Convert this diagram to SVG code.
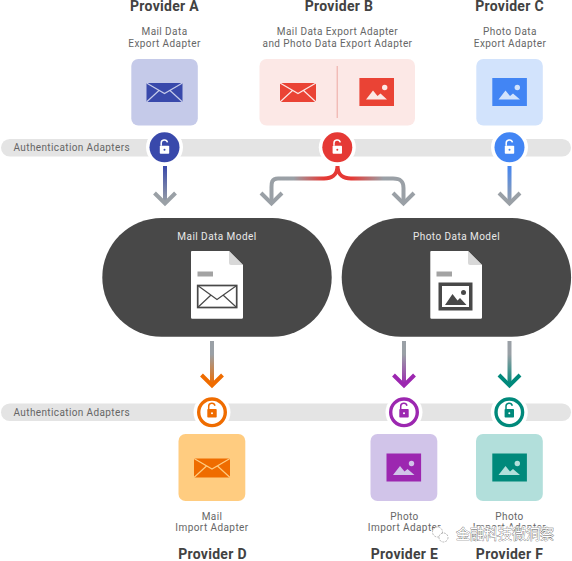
<svg xmlns="http://www.w3.org/2000/svg" width="572" height="561" viewBox="0 0 572 561">
<style>
text{font-family:Roboto,"Liberation Sans",sans-serif;text-anchor:middle}
.p{font-size:14px;font-weight:700;fill:#424242;letter-spacing:.3px}
.s{font-size:10px;fill:#666;letter-spacing:.42px}
.a{font-size:10px;fill:#666;letter-spacing:.38px;text-anchor:start}
.m{font-size:10px;fill:#e8e8e8;letter-spacing:.45px}
.bar{fill:#e4e4e4}
.halo{fill:#fff}
.ln{fill:none;stroke-width:4}
.hd{fill:none;stroke-width:4}
</style>
<defs>
<linearGradient id="gA" gradientUnits="userSpaceOnUse" x1="0" y1="166" x2="0" y2="203"><stop offset="0" stop-color="#3949ab"/><stop offset="1" stop-color="#9aa0a6"/></linearGradient>
<linearGradient id="gC" gradientUnits="userSpaceOnUse" x1="0" y1="166" x2="0" y2="203"><stop offset="0" stop-color="#4285f4"/><stop offset="1" stop-color="#9aa0a6"/></linearGradient>
<linearGradient id="gB" gradientUnits="userSpaceOnUse" x1="266" y1="0" x2="404" y2="0"><stop offset="0" stop-color="#9aa0a6"/><stop offset=".2" stop-color="#9aa0a6"/><stop offset=".42" stop-color="#e53935"/><stop offset=".62" stop-color="#e53935"/><stop offset=".85" stop-color="#9aa0a6"/><stop offset="1" stop-color="#9aa0a6"/></linearGradient>
<linearGradient id="gD" gradientUnits="userSpaceOnUse" x1="0" y1="341" x2="0" y2="385"><stop offset=".3" stop-color="#9aa0a6"/><stop offset="1" stop-color="#ef6c00"/></linearGradient>
<linearGradient id="gE" gradientUnits="userSpaceOnUse" x1="0" y1="341" x2="0" y2="385"><stop offset=".3" stop-color="#9aa0a6"/><stop offset="1" stop-color="#9c27b0"/></linearGradient>
<linearGradient id="gF" gradientUnits="userSpaceOnUse" x1="0" y1="341" x2="0" y2="385"><stop offset=".3" stop-color="#9aa0a6"/><stop offset="1" stop-color="#00897b"/></linearGradient>
<path id="shackle" d="M-3.300-1.500V-3.800A3.200 3.200 0 0 1 3-4.800" fill="none" stroke-width="1.500"/>
<g id="mail"><rect x="-18.500" y="-10" width="37" height="20"/><path d="M-18-9.500 0 1 18-9.500M-18 9.500-5.500-2M18 9.500 5.500-2" fill="none" stroke-width="1.200"/></g>
</defs>

<g id="bars">
<rect class="bar" x="1" y="139" width="570" height="17.600" rx="8.800"/>
<rect class="bar" x="1" y="403.400" width="570" height="17.600" rx="8.800"/>
<text class="a" x="13.500" y="150.500">Authentication Adapters</text>
<text class="a" x="13.500" y="415.500">Authentication Adapters</text>
</g>

<g id="connectors">
<path class="ln" stroke="url(#gA)" d="M165 166V201"/><path class="hd" stroke="#9aa0a6" d="M154.500 193 165 203.500 175.500 193"/>
<path class="ln" stroke="url(#gC)" d="M509.500 166V201"/><path class="hd" stroke="#9aa0a6" d="M499 193 509.500 203.500 520 193"/>
<path class="ln" stroke="url(#gB)" d="M337.500 166C337.500 175 331 178.500 324 178.500H278C271 178.500 271.500 184 271.500 188V201M337.500 166C337.500 175 344 178.500 351 178.500H393C403 178.500 403.500 184 403.500 188V201"/>
<path class="hd" stroke="#9aa0a6" d="M261 193 271.500 203.500 282 193M393 193 403.500 203.500 414 193"/>
<path class="ln" stroke="url(#gD)" d="M212 341V383"/><path class="hd" stroke="#ef6c00" d="M201.500 375 212 385.500 222.500 375"/>
<path class="ln" stroke="url(#gE)" d="M404 341V383"/><path class="hd" stroke="#9c27b0" d="M393.500 375 404 385.500 414.500 375"/>
<path class="ln" stroke="url(#gF)" d="M509.500 341V383"/><path class="hd" stroke="#00897b" d="M499 375 509.500 385.500 520 375"/>
</g>

<g id="provider-a">
<text class="p" x="164.500" y="11">Provider A</text>
<text class="s" x="164.500" y="35">Mail Data</text><text class="s" x="164.500" y="46.500">Export Adapter</text>
<rect x="131.300" y="59" width="66.500" height="66.500" rx="7" fill="#c5cae9"/>
<use href="#mail" transform="translate(164.500 92.500)" fill="#3949ab" stroke="#c5cae9"/>
</g>
<g id="auth-a">
<circle class="halo" cx="164.500" cy="147.300" r="18.500"/><circle cx="164.500" cy="147.300" r="15" fill="#3949ab"/>
<g transform="translate(164.500 147.200)"><rect x="-4.700" y="-1.500" width="9.400" height="8" rx=".8" fill="#fff"/><use href="#shackle" stroke="#fff"/><circle cy="2.500" r="1" fill="#3949ab"/></g>
</g>

<g id="provider-b">
<text class="p" x="339" y="11">Provider B</text>
<text class="s" x="337.500" y="35">Mail Data Export Adapter</text><text class="s" x="337.500" y="46.500">and Photo Data Export Adapter</text>
<rect x="259.500" y="59" width="155.500" height="66.500" rx="7" fill="#fce8e6"/>
<path d="M337.200 66V118" stroke="#eda9a3" stroke-width="1"/>
<use href="#mail" transform="translate(298 92.500)" fill="#ea4335" stroke="#fce8e6"/>
<rect x="359.400" y="78" width="34.600" height="28" fill="#ea4335"/>
<path d="M366 99.500 373 90.500 377.500 96 380.500 93.500 387 99.500Z" fill="#fce8e6"/><circle cx="384.700" cy="87.500" r="2.700" fill="#fce8e6"/>
</g>
<g id="auth-b">
<circle class="halo" cx="337.300" cy="147.300" r="18.500"/><circle cx="337.300" cy="147.300" r="15" fill="#e53935"/>
<g transform="translate(337.300 147.200)"><rect x="-4.700" y="-1.500" width="9.400" height="8" rx=".8" fill="#fff"/><use href="#shackle" stroke="#fff"/><circle cy="2.500" r="1" fill="#e53935"/></g>
</g>

<g id="provider-c">
<text class="p" x="509.500" y="11">Provider C</text>
<text class="s" x="510" y="35">Photo Data</text><text class="s" x="510" y="46.500">Export Adapter</text>
<rect x="476.300" y="59" width="66.500" height="66.500" rx="7" fill="#d2e3fc"/>
<rect x="492.300" y="78" width="34.600" height="28" fill="#4285f4"/>
<path d="M498.500 99.500 505.500 90.500 510 96 513 93.500 520 99.500Z" fill="#d2e3fc"/><circle cx="517.300" cy="87.500" r="2.700" fill="#d2e3fc"/>
</g>
<g id="auth-c">
<circle class="halo" cx="509.500" cy="147.300" r="18.500"/><circle cx="509.500" cy="147.300" r="15" fill="#4285f4"/>
<g transform="translate(509.500 147.200)"><rect x="-4.700" y="-1.500" width="9.400" height="8" rx=".8" fill="#fff"/><use href="#shackle" stroke="#fff"/><circle cy="2.500" r="1" fill="#4285f4"/></g>
</g>

<g id="mail-data-model">
<rect x="102.300" y="218" width="229.400" height="118.700" rx="59.300" fill="#484848"/>
<text class="m" x="217" y="239.500">Mail Data Model</text>
<path d="M192.500 251H229L243 265V317.500A1.300 1.300 0 0 1 241.700 318.700H192.500A1.300 1.300 0 0 1 191 317.500V252.500A1.300 1.300 0 0 1 192.500 251Z" fill="#fff"/>
<path d="M229 251 243 265H231A2 2 0 0 1 229 263Z" fill="#d8d8d8"/>
<rect x="197.500" y="271.500" width="15.500" height="5" fill="#a3a3a3"/>
<rect x="197.700" y="285.500" width="39" height="22" fill="#fff" stroke="#484848" stroke-width="1.700"/>
<path d="M197.700 285.500 217 299.500 236.700 285.500M197.700 307.500 211 295M236.700 307.500 223 295" fill="none" stroke="#484848" stroke-width="1.200"/>
</g>

<g id="photo-data-model">
<rect x="341.700" y="218" width="229.400" height="118.700" rx="59.300" fill="#484848"/>
<text class="m" x="456.500" y="239.500">Photo Data Model</text>
<path d="M431.800 251H468L482 265V317.500A1.300 1.300 0 0 1 480.700 318.700H431.800A1.300 1.300 0 0 1 430.300 317.500V252.500A1.300 1.300 0 0 1 431.800 251Z" fill="#fff"/>
<path d="M468 251 482 265H470A2 2 0 0 1 468 263Z" fill="#d8d8d8"/>
<rect x="436.500" y="271.500" width="15.500" height="5" fill="#a3a3a3"/>
<rect x="438.500" y="282.500" width="34" height="28" fill="#484848"/>
<rect x="442" y="286" width="27" height="21" fill="#fff"/>
<path d="M445 305 452.500 294 457.500 300.500 460 298 466.500 305Z" fill="#484848"/><circle cx="463.500" cy="292.500" r="2.500" fill="#484848"/>
</g>

<g id="auth-d">
<circle class="halo" cx="212" cy="412.300" r="18.500"/><circle cx="212" cy="412.300" r="13.300" fill="#fff" stroke="#ef6c00" stroke-width="3.400"/>
<g transform="translate(212 410.500)"><rect x="-4.700" y="-1.500" width="9.400" height="8.500" rx=".8" fill="#ef6c00"/><use href="#shackle" stroke="#ef6c00"/><circle cy="2.800" r="1" fill="#fff"/></g>
</g>
<g id="provider-d">
<rect x="178.500" y="434" width="66.800" height="67" rx="7" fill="#ffcc80"/>
<use href="#mail" transform="translate(212 468)" fill="#ef6c00" stroke="#ffcc80"/>
<text class="s" x="212" y="519.500">Mail</text><text class="s" x="212" y="531">Import Adapter</text>
<text class="p" x="212.500" y="558.500">Provider D</text>
</g>

<g id="auth-e">
<circle class="halo" cx="404" cy="412.300" r="18.500"/><circle cx="404" cy="412.300" r="13.300" fill="#fff" stroke="#9c27b0" stroke-width="3.400"/>
<g transform="translate(404 410.500)"><rect x="-4.700" y="-1.500" width="9.400" height="8.500" rx=".8" fill="#9c27b0"/><use href="#shackle" stroke="#9c27b0"/><circle cy="2.800" r="1" fill="#fff"/></g>
</g>
<g id="provider-e">
<rect x="370.500" y="434" width="66.800" height="67" rx="7" fill="#d1c4e9"/>
<rect x="386.500" y="453.500" width="34.600" height="28" fill="#9c27b0"/>
<path d="M393 475 400 466 404.500 471.500 407.500 469 414.500 475Z" fill="#d1c4e9"/><circle cx="411.500" cy="463.500" r="2.700" fill="#d1c4e9"/>
<text class="s" x="404.500" y="519.500">Photo</text><text class="s" x="404.500" y="531">Import Adapter</text>
<text class="p" x="404.500" y="558.500">Provider E</text>
</g>

<g id="auth-f">
<circle class="halo" cx="509.300" cy="412.300" r="18.500"/><circle cx="509.300" cy="412.300" r="13.300" fill="#fff" stroke="#00897b" stroke-width="3.400"/>
<g transform="translate(509.300 410.500)"><rect x="-4.700" y="-1.500" width="9.400" height="8.500" rx=".8" fill="#00897b"/><use href="#shackle" stroke="#00897b"/><circle cy="2.800" r="1" fill="#fff"/></g>
</g>
<g id="provider-f">
<rect x="476" y="434" width="66.800" height="67" rx="7" fill="#b2dfdb"/>
<rect x="492.300" y="453.500" width="34.600" height="28" fill="#00897b"/>
<path d="M498.500 475 505.500 466 510 471.500 513 469 520 475Z" fill="#b2dfdb"/><circle cx="517.300" cy="463.500" r="2.700" fill="#b2dfdb"/>
<text class="s" x="509.500" y="519.500">Photo</text><text class="s" x="509.500" y="531">Import Adapter</text>
<text class="p" x="509.500" y="558.500">Provider F</text>
</g>

<g id="watermark">
<rect x="436" y="526.500" width="122" height="15" fill="#fff" opacity=".8"/>
<circle cx="437.500" cy="532" r="5" fill="#fff" stroke="#999" stroke-width=".7" stroke-dasharray="2 1"/>
<circle cx="443.500" cy="537.500" r="4.500" fill="#fff" stroke="#999" stroke-width=".7" stroke-dasharray="2 1"/>
<text x="505" y="539" style="font-family:'Noto Sans CJK SC',sans-serif;font-size:14px;fill:#fff;stroke:#555;stroke-width:.6px;paint-order:stroke">金融科技微洞察</text>
</g>
</svg>
